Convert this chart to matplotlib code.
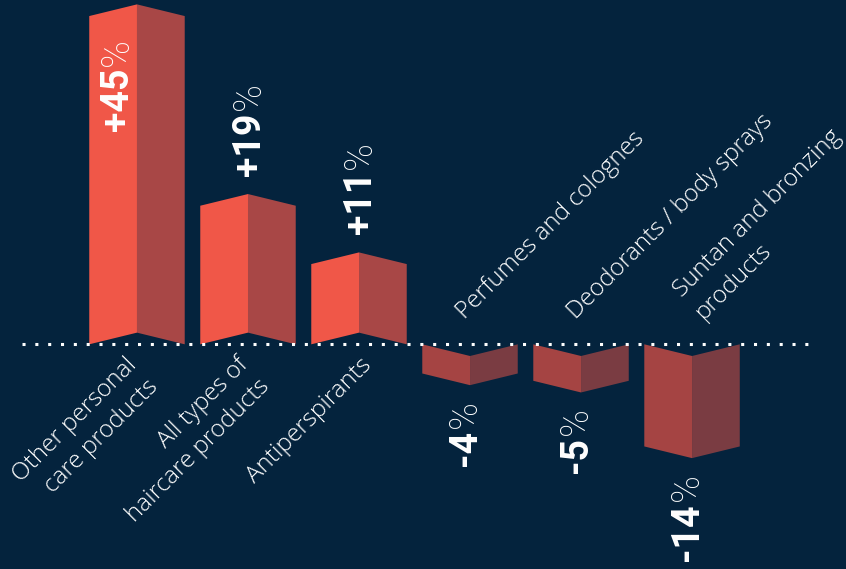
import numpy as np
import matplotlib.pyplot as plt
from matplotlib.patches import Polygon

categories = ["Other personal\ncare products", "All types of\nhaircare products", "Antiperspirants",
              "Perfumes and colognes", "Deodorants / body sprays", "Suntan and bronzing\nproducts"]
values = [45, 19, 11, -4, -5, -14]
value_labels = ["+45", "+19", "+11", "-4", "-5", "-14"]

BG = "#04233d"
POS_L, POS_R = "#f05748", "#a84746"
NEG_L, NEG_R = "#a54443", "#7a3c42"

W = 0.86     # bar width
FOLD = 1.6   # fold offset of the middle crease (in % units)

fig = plt.figure(figsize=(8.46, 5.69), dpi=100, facecolor=BG)
ax = fig.add_axes([0, 0, 1, 1])
ax.set_facecolor(BG)
ax.set_xlim(-1.234, 6.387)
ax.set_ylim(-30.8, 47.2)
ax.axis("off")

x = np.arange(len(values))

# dotted zero line
ax.plot([-1.04, 6.06], [0, 0], color="white", lw=2.2, ls=(0, (1, 3.2)), zorder=3)

for i, v in zip(x, values):
    d = FOLD if v > 0 else -FOLD
    x0, xc, x1 = i - W / 2, i, i + W / 2
    cl, cr = (POS_L, POS_R) if v > 0 else (NEG_L, NEG_R)
    ax.add_patch(Polygon([(x0, 0), (xc, d), (xc, v + d), (x0, v)], closed=True, fc=cl, ec="none", zorder=2))
    ax.add_patch(Polygon([(xc, d), (x1, 0), (x1, v), (xc, v + d)], closed=True, fc=cr, ec="none", zorder=2))

fig.canvas.draw()
renderer = fig.canvas.get_renderer()
inv = ax.transData.inverted()

num_font = dict(family="Roboto", weight="bold", size=27, color="white", rotation=90, ha="center")
pct_font = dict(family="Roboto", weight="light", size=27, color="white", rotation=90, ha="center")

for i, v, lab in zip(x, values, value_labels):
    if v > 30:
        # label sits inside the tall bar
        tx, ty = i - W / 4 + 0.04, v - 15.8
    elif v > 0:
        tx, ty = i + 0.01, v + FOLD + 2.5
    else:
        tx, ty = i - 0.04, v - FOLD - 2.0
    if v > 0:
        t = ax.text(tx, ty, lab, va="bottom", **num_font)
        bb = t.get_window_extent(renderer)
        top = inv.transform((0, bb.y1))[1]
        ax.text(tx, top + 0.3, "%", va="bottom", **pct_font)
    else:
        p = ax.text(tx, ty, "%", va="top", **pct_font)
        bb = p.get_window_extent(renderer)
        bot = inv.transform((0, bb.y0))[1]
        ax.text(tx, bot - 0.3, lab, va="top", **num_font)

cat_font = dict(family="Open Sans", weight="light", size=17.5, color="white", rotation=45,
                rotation_mode="anchor", linespacing=1.38)
for i, v, c in zip(x, values, categories):
    extra = c.count("\n")
    if v > 0:
        ax.text(i + 0.01 - 0.12 * extra, -1.2, c, ha="right", va="top", multialignment="right", **cat_font)
    else:
        ax.text(i - 0.01 + 0.15 * extra, 2.8, c, ha="left", va="bottom", multialignment="left", **cat_font)

fig.savefig("out.png", dpi=100, facecolor=BG)
